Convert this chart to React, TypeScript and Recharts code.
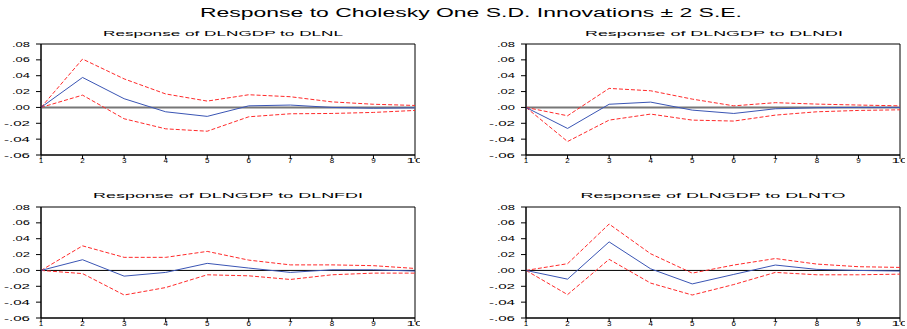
import { LineChart, Line, XAxis, YAxis, ReferenceLine, ReferenceArea } from 'recharts'

const periods = [1, 2, 3, 4, 5, 6, 7, 8, 9, 10]
const yTicks = [-0.06, -0.04, -0.02, 0, 0.02, 0.04, 0.06, 0.08]

const mainTitle = 'Response to Cholesky One S.D. Innovations \u00b1 2 S.E.'

// DLNL
const nlResp = [0, 0.0378, 0.011, -0.0055, -0.0113, 0.002, 0.003, 0, -0.001, -0.0005]
const nlUpper = [0, 0.061, 0.036, 0.017, 0.008, 0.016, 0.0135, 0.007, 0.004, 0.0025]
const nlLower = [0, 0.0155, -0.0143, -0.027, -0.03, -0.0118, -0.008, -0.0076, -0.0063, -0.0038]

// DLNDI
const ndiResp = [0, -0.0265, 0.004, 0.0067, -0.0034, -0.0076, -0.0017, -0.0004, 0, 0]
const ndiUpper = [0, -0.0105, 0.024, 0.021, 0.0105, 0.002, 0.006, 0.0042, 0.003, 0.002]
const ndiLower = [0, -0.043, -0.016, -0.0084, -0.016, -0.0172, -0.0097, -0.0055, -0.0038, -0.003]

// DLNFDI
const nfdiResp = [0, 0.0135, -0.0072, -0.0025, 0.0089, 0.003, -0.0025, 0.0008, 0.0008, -0.0008]
const nfdiUpper = [0, 0.031, 0.0165, 0.0165, 0.024, 0.013, 0.007, 0.007, 0.006, 0.0025]
const nfdiLower = [0, -0.004, -0.031, -0.0216, -0.0055, -0.0068, -0.0114, -0.0055, -0.0034, -0.0034]

// DLNTO
const ntoResp = [0, -0.011, 0.036, 0.002, -0.017, -0.005, 0.0068, 0.0013, 0, -0.0008]
const ntoUpper = [0, 0.0085, 0.0585, 0.021, -0.0034, 0.0068, 0.015, 0.008, 0.0047, 0.0038]
const ntoLower = [0, -0.0305, 0.014, -0.016, -0.031, -0.0178, -0.0025, -0.0055, -0.0055, -0.0047]

const font = '"Liberation Sans", Arial, sans-serif'

function buildRows(resp: number[], upper: number[], lower: number[]) {
  return periods.map((p, i) => ({ period: p, resp: resp[i], upper: upper[i], lower: lower[i] }))
}

const fmtY = (v: number) => {
  const s = Math.abs(v).toFixed(2).replace(/^0/, '')
  return v < -1e-9 ? '-' + s : s
}

function YTick(props: any) {
  const { x, y, payload } = props
  const label = fmtY(payload.value)
  return (
    <text x={x} y={y + 2.5} textAnchor='end' fontSize={7} fontFamily={font} fill='#000'
      textLength={label.length > 3 ? 26 : 18} lengthAdjust='spacingAndGlyphs'>
      {label}
    </text>
  )
}

function XTick(props: any) {
  const { x, y, payload } = props
  const label = String(payload.value)
  return (
    <text x={x} y={y + 4} textAnchor='middle' fontSize={8} fontFamily={font} fill='#000'
      {...(label.length > 1 ? { textLength: 17, lengthAdjust: 'spacingAndGlyphs' } : {})}>
      {label}
    </text>
  )
}

type PanelProps = {
  rows: ReturnType<typeof buildRows>
  left: number
  top: number
  zeroColor: string
  zeroWidth: number
}

function Panel({ rows, left, top, zeroColor, zeroWidth }: PanelProps) {
  return (
    <div style={{ position: 'absolute', left, top }}>
      <LineChart width={420} height={129} data={rows} margin={{ top: 6, right: 5, left: 0, bottom: 0 }}>
        <XAxis dataKey='period' type='number' domain={[1, 10]} ticks={periods} interval={0}
          height={12} tickSize={4} tickMargin={0} stroke='#000' tick={<XTick />} />
        <YAxis type='number' domain={[-0.06, 0.08]} ticks={yTicks} interval={0} width={41}
          tickSize={5} tickMargin={6} stroke='#000' tick={<YTick />} />
        <ReferenceArea x1={1} x2={10} y1={-0.06} y2={0.08} fill='none' stroke='#000' strokeWidth={1} />
        <ReferenceLine y={0} stroke={zeroColor} strokeWidth={zeroWidth} />
        <Line dataKey='upper' stroke='#ff2a2a' strokeWidth={1} strokeDasharray='4 2' dot={false} isAnimationActive={false} />
        <Line dataKey='lower' stroke='#ff2a2a' strokeWidth={1} strokeDasharray='4 2' dot={false} isAnimationActive={false} />
        <Line dataKey='resp' stroke='#3a55b4' strokeWidth={1} dot={false} isAnimationActive={false} />
      </LineChart>
    </div>
  )
}

const titles = [
  { text: 'Response of DLNGDP to DLNL', x: 223, y: 36, w: 240 },
  { text: 'Response of DLNGDP to DLNDI', x: 714, y: 36, w: 258 },
  { text: 'Response of DLNGDP to DLNFDI', x: 228, y: 198, w: 270 },
  { text: 'Response of DLNGDP to DLNTO', x: 713, y: 198, w: 265 },
]

export default function App() {
  return (
    <div style={{ position: 'absolute', left: 0, top: 0, width: 907, height: 329, overflow: 'hidden', background: '#fff' }}>
      <Panel rows={buildRows(nlResp, nlUpper, nlLower)} left={0} top={38} zeroColor='#777' zeroWidth={2} />
      <Panel rows={buildRows(ndiResp, ndiUpper, ndiLower)} left={485} top={38} zeroColor='#777' zeroWidth={2} />
      <Panel rows={buildRows(nfdiResp, nfdiUpper, nfdiLower)} left={0} top={201} zeroColor='#000' zeroWidth={1} />
      <Panel rows={buildRows(ntoResp, ntoUpper, ntoLower)} left={485} top={201} zeroColor='#000' zeroWidth={1} />
      <svg width={907} height={329} style={{ position: 'absolute', left: 0, top: 0, pointerEvents: 'none' }}>
        <text x={471} y={17} textAnchor='middle' fontSize={12} fontFamily={font} fill='#000'
          textLength={542} lengthAdjust='spacingAndGlyphs'>
          {mainTitle}
        </text>
        {titles.map((t) => (
          <text key={t.text} x={t.x} y={t.y} textAnchor='middle' fontSize={8} fontFamily={font} fill='#000'
            textLength={t.w} lengthAdjust='spacingAndGlyphs'>
            {t.text}
          </text>
        ))}
      </svg>
    </div>
  )
}
